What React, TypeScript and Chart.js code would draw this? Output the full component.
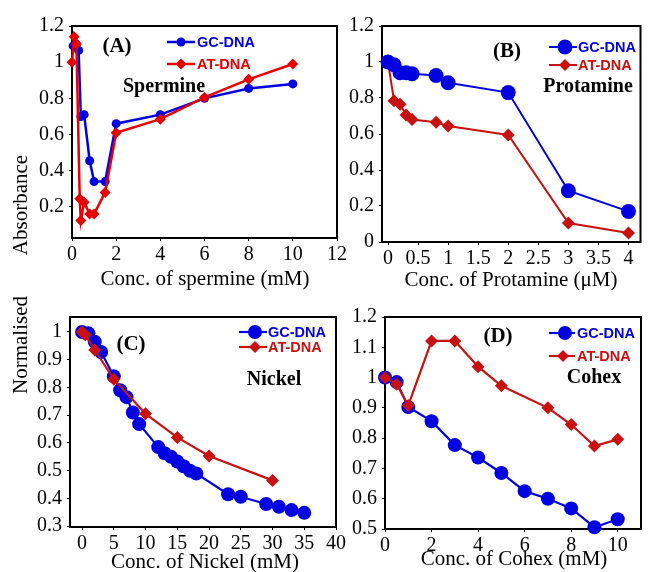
import React, { useEffect, useRef } from "react";
import { Chart, registerables } from "chart.js";
Chart.register(...registerables);

// ---------- Data ----------
// Panel A – Spermine
const spermineGcX = [0.05, 0.2, 0.3, 0.4, 0.55, 0.8, 1, 1.5, 2, 4, 6, 8, 10];
const spermineGcY = [1.09, 1.1, 1.065, 0.7, 0.71, 0.455, 0.34, 0.34, 0.66, 0.71, 0.8, 0.855, 0.88];
const spermineAtX = [0, 0.1, 0.2, 0.35, 0.4, 0.55, 0.8, 1, 1.5, 2, 4, 6, 8, 10];
const spermineAtY = [1.0, 1.14, 1.1, 0.245, 0.125, 0.225, 0.16, 0.16, 0.28, 0.61, 0.685, 0.805, 0.905, 0.99];
const spermineXTicks = [0, 2, 4, 6, 8, 10, 12];
const spermineYTicks = [0.2, 0.4, 0.6, 0.8, 1, 1.2];

// Panel B – Protamine
const protGcX = [0, 0.1, 0.2, 0.3, 0.4, 0.8, 1, 2, 3, 4];
const protGcY = [1.0, 0.985, 0.94, 0.94, 0.935, 0.925, 0.885, 0.83, 0.285, 0.17];
const protAtX = [0, 0.1, 0.2, 0.3, 0.4, 0.8, 1, 2, 3, 4];
const protAtY = [1.0, 0.785, 0.765, 0.705, 0.68, 0.665, 0.645, 0.595, 0.105, 0.05];
const protXTicks = [0, 0.5, 1, 1.5, 2, 2.5, 3, 3.5, 4];
const protYTicks = [0, 0.2, 0.4, 0.6, 0.8, 1, 1.2];

// Panel C – Nickel
const nickelGcX = [0, 1, 2, 3, 5, 6, 7, 8, 9, 12, 13, 14, 15, 16, 17, 18, 23, 25, 29, 31, 33, 35];
const nickelGcY = [1.0, 0.995, 0.965, 0.928, 0.84, 0.79, 0.765, 0.71, 0.668, 0.585, 0.563, 0.55, 0.533, 0.516, 0.5, 0.49, 0.415, 0.406, 0.38, 0.37, 0.358, 0.348];
const nickelAtX = [0, 0.5, 2, 5, 10, 15, 20, 30];
const nickelAtY = [1.0, 0.99, 0.935, 0.83, 0.705, 0.62, 0.553, 0.465];
const nickelXTicks = [0, 5, 10, 15, 20, 25, 30, 35, 40];
const nickelYTicks = [0.3, 0.4, 0.5, 0.6, 0.7, 0.8, 0.9, 1];

// Panel D – Cohex
const cohexGcX = [0, 0.5, 1, 2, 3, 4, 5, 6, 7, 8, 9, 10];
const cohexGcY = [1.0, 0.985, 0.903, 0.856, 0.777, 0.736, 0.685, 0.625, 0.6, 0.568, 0.506, 0.532];
const cohexAtX = [0, 0.5, 1, 2, 3, 4, 5, 7, 8, 9, 10];
const cohexAtY = [1.0, 0.978, 0.908, 1.121, 1.121, 1.036, 0.973, 0.9, 0.845, 0.774, 0.796];
const cohexXTicks = [0, 2, 4, 6, 8, 10];
const cohexYTicks = [0.5, 0.6, 0.7, 0.8, 0.9, 1, 1.1, 1.2];

// ---------- Styles ----------
const BLUE = "rgb(0,0,225)";
const RED_A = "rgb(230,0,0)";
const RED = "rgb(200,18,18)";
const SERIF = "'Liberation Serif', 'Times New Roman', serif";
const SANS = "'Liberation Sans', Arial, sans-serif";

type Series = {
  label: string;
  xs: number[];
  ys: number[];
  color: string;
  shape: "circle" | "rectRot";
  radius: number;
  width: number;
};

type Txt = {
  text: string;
  x: number;
  y: number;
  font: string;
  color?: string;
  align?: CanvasTextAlign;
  baseline?: CanvasTextBaseline;
  rotate?: boolean;
};

type LegendItem = { series: Series; x1: number; x2: number; y: number; mx: number; tx: number; r: number };

type PanelCfg = {
  left: number;
  top: number;
  w: number;
  h: number;
  plot: { l: number; t: number; r: number; b: number };
  xMin: number;
  xMax: number;
  yMin: number;
  yMax: number;
  xTicks: number[];
  yTicks: number[];
  series: Series[];
  texts: Txt[];
  legend: LegendItem[];
};

const fmt = (v: number) => String(Math.round(v * 100) / 100);

function drawMarker(ctx: CanvasRenderingContext2D, shape: string, x: number, y: number, r: number, color: string) {
  ctx.save();
  ctx.fillStyle = color;
  ctx.beginPath();
  if (shape === "circle") {
    ctx.arc(x, y, r, 0, Math.PI * 2);
  } else {
    ctx.moveTo(x - r, y);
    ctx.lineTo(x, y - r);
    ctx.lineTo(x + r, y);
    ctx.lineTo(x, y + r);
    ctx.closePath();
  }
  ctx.fill();
  ctx.restore();
}

function Panel({ cfg }: { cfg: PanelCfg }) {
  const ref = useRef<HTMLCanvasElement>(null);
  useEffect(() => {
    const c = cfg;
    const yW = c.plot.l - c.left;
    const xH = c.top + c.h - c.plot.b;
    const borderPlugin = {
      id: "frame",
      beforeDatasetsDraw(chart: any) {
        const { ctx, chartArea: a } = chart;
        ctx.save();
        ctx.strokeStyle = "#000";
        ctx.lineWidth = 2;
        ctx.strokeRect(a.left, a.top, a.right - a.left, a.bottom - a.top);
        ctx.restore();
      },
    };
    const textPlugin = {
      id: "texts",
      afterDraw(chart: any) {
        const ctx: CanvasRenderingContext2D = chart.ctx;
        ctx.save();
        for (const t of c.texts) {
          ctx.save();
          ctx.font = t.font;
          ctx.fillStyle = t.color || "#000";
          ctx.textAlign = t.align || "center";
          ctx.textBaseline = t.baseline || "middle";
          ctx.translate(t.x - c.left, t.y - c.top);
          if (t.rotate) ctx.rotate(-Math.PI / 2);
          ctx.fillText(t.text, 0, 0);
          ctx.restore();
        }
        for (const L of c.legend) {
          const s = L.series;
          ctx.save();
          ctx.strokeStyle = s.color;
          ctx.lineWidth = s.width;
          ctx.beginPath();
          ctx.moveTo(L.x1 - c.left, L.y - c.top);
          ctx.lineTo(L.x2 - c.left, L.y - c.top);
          ctx.stroke();
          drawMarker(ctx, s.shape, L.mx - c.left, L.y - c.top, L.r, s.color);
          ctx.font = `bold 14.5px ${SANS}`;
          ctx.fillStyle = s.color;
          ctx.textAlign = "left";
          ctx.textBaseline = "middle";
          ctx.fillText(s.label, L.tx - c.left, L.y - c.top + 1);
          ctx.restore();
        }
        ctx.restore();
      },
    };
    const tickFont = { family: SERIF, size: 20 };
    const chart = new Chart(ref.current as HTMLCanvasElement, {
      type: "line",
      data: {
        datasets: c.series.map((s) => ({
          label: s.label,
          data: s.xs.map((x, i) => ({ x, y: s.ys[i] })),
          borderColor: s.color,
          backgroundColor: s.color,
          pointBackgroundColor: s.color,
          pointBorderColor: s.color,
          pointBorderWidth: 0,
          pointStyle: s.shape,
          pointRadius: s.radius,
          borderWidth: s.width,
          tension: 0,
          fill: false,
          clip: false as any,
        })),
      },
      options: {
        responsive: false,
        animation: false,
        devicePixelRatio: 1,
        layout: {
          padding: {
            left: 0,
            top: c.plot.t - c.top,
            right: c.left + c.w - c.plot.r,
            bottom: 0,
          },
        },
        plugins: { legend: { display: false }, tooltip: { enabled: false } },
        scales: {
          x: {
            type: "linear",
            min: c.xMin,
            max: c.xMax,
            afterBuildTicks: (s: any) => {
              s.ticks = c.xTicks.map((v) => ({ value: v }));
            },
            afterFit: (s: any) => {
              s.height = xH;
              s.paddingLeft = 0;
              s.paddingRight = 0;
              s.paddingTop = 0;
              s.paddingBottom = 0;
            },
            grid: { display: true, drawOnChartArea: false, drawTicks: true, tickLength: 3, color: "#000", lineWidth: 1 },
            border: { display: false },
            ticks: {
              font: tickFont,
              color: "#000",
              padding: 2,
              maxRotation: 0,
              autoSkip: false,
              callback: (v: any) => fmt(Number(v)),
            },
          },
          y: {
            type: "linear",
            min: c.yMin,
            max: c.yMax,
            afterBuildTicks: (s: any) => {
              s.ticks = c.yTicks.map((v) => ({ value: v }));
            },
            afterFit: (s: any) => {
              s.width = yW;
              s.paddingLeft = 0;
              s.paddingRight = 0;
              s.paddingTop = 0;
              s.paddingBottom = 0;
            },
            grid: { display: true, drawOnChartArea: false, drawTicks: true, tickLength: 3, color: "#000", lineWidth: 1 },
            border: { display: false },
            ticks: {
              font: tickFont,
              color: "#000",
              padding: 5,
              autoSkip: false,
              callback: (v: any) => fmt(Number(v)),
            },
          },
        },
      } as any,
      plugins: [borderPlugin, textPlugin],
    });
    return () => chart.destroy();
  }, [cfg]);
  return (
    <canvas
      ref={ref}
      width={cfg.w}
      height={cfg.h}
      style={{ position: "absolute", left: cfg.left, top: cfg.top, width: cfg.w, height: cfg.h }}
    />
  );
}

// ---------- Panels ----------
const sA_at: Series = { label: "AT-DNA", xs: spermineAtX, ys: spermineAtY, color: RED_A, shape: "rectRot", radius: 5.5, width: 2.5 };
const sA_gc: Series = { label: "GC-DNA", xs: spermineGcX, ys: spermineGcY, color: BLUE, shape: "circle", radius: 4.5, width: 2.5 };
const sB_gc: Series = { label: "GC-DNA", xs: protGcX, ys: protGcY, color: BLUE, shape: "circle", radius: 7.5, width: 2 };
const sB_at: Series = { label: "AT-DNA", xs: protAtX, ys: protAtY, color: RED, shape: "rectRot", radius: 6.5, width: 2 };
const sC_gc: Series = { label: "GC-DNA", xs: nickelGcX, ys: nickelGcY, color: BLUE, shape: "circle", radius: 7, width: 2.2 };
const sC_at: Series = { label: "AT-DNA", xs: nickelAtX, ys: nickelAtY, color: RED, shape: "rectRot", radius: 6.5, width: 2.2 };
const sD_gc: Series = { label: "GC-DNA", xs: cohexGcX, ys: cohexGcY, color: BLUE, shape: "circle", radius: 7, width: 2.2 };
const sD_at: Series = { label: "AT-DNA", xs: cohexAtX, ys: cohexAtY, color: RED, shape: "rectRot", radius: 6.5, width: 2.2 };

const labelFont = `bold 21px ${SERIF}`;
const nameFont = `bold 20px ${SERIF}`;
const titleFont = `21px ${SERIF}`;

const panelA: PanelCfg = {
  left: 0, top: 0, w: 346, h: 290,
  plot: { l: 72, t: 26, r: 337, b: 238 },
  xMin: 0, xMax: 12, yMin: 0.028, yMax: 1.2,
  xTicks: spermineXTicks, yTicks: spermineYTicks,
  series: [sA_at, sA_gc],
  texts: [
    { text: "(A)", x: 117, y: 47, font: labelFont },
    { text: "Spermine", x: 164, y: 87, font: nameFont },
    { text: "Absorbance", x: 21, y: 205, font: titleFont, rotate: true },
    { text: "Conc. of spermine (mM)", x: 205, y: 285, font: titleFont, baseline: "alphabetic" },
  ],
  legend: [
    { series: sA_gc, x1: 167, x2: 195, y: 42, mx: 181, tx: 197, r: 4.5 },
    { series: sA_at, x1: 167, x2: 195, y: 64, mx: 181, tx: 197, r: 5.5 },
  ],
};

const panelB: PanelCfg = {
  left: 346, top: 0, w: 302, h: 290,
  plot: { l: 382, t: 26, r: 646, b: 242 },
  xMin: -0.1, xMax: 4.2, yMin: 0, yMax: 1.2,
  xTicks: protXTicks, yTicks: protYTicks,
  series: [sB_gc, sB_at],
  texts: [
    { text: "(B)", x: 507, y: 52, font: labelFont },
    { text: "Protamine", x: 588, y: 87, font: nameFont },
    { text: "Conc. of Protamine (\u03bcM)", x: 511, y: 286, font: titleFont, baseline: "alphabetic" },
  ],
  legend: [
    { series: sB_gc, x1: 549, x2: 577, y: 47, mx: 565, tx: 578, r: 7.5 },
    { series: sB_at, x1: 549, x2: 577, y: 65, mx: 565, tx: 578, r: 6 },
  ],
};

const panelC: PanelCfg = {
  left: 0, top: 290, w: 346, h: 282,
  plot: { l: 70, t: 317, r: 336, b: 527 },
  xMin: -1.9, xMax: 40, yMin: 0.297, yMax: 1.054,
  xTicks: nickelXTicks, yTicks: nickelYTicks,
  series: [sC_at, sC_gc],
  texts: [
    { text: "(C)", x: 131, y: 345, font: labelFont },
    { text: "Nickel", x: 274, y: 380, font: nameFont },
    { text: "Normalised", x: 21, y: 345, font: titleFont, rotate: true },
    { text: "Conc. of Nickel (mM)", x: 205, y: 568, font: titleFont, baseline: "alphabetic" },
  ],
  legend: [
    { series: sC_gc, x1: 239, x2: 267, y: 332, mx: 255, tx: 268, r: 7 },
    { series: sC_at, x1: 239, x2: 267, y: 347, mx: 255, tx: 268, r: 6 },
  ],
};

const panelD: PanelCfg = {
  left: 346, top: 290, w: 302, h: 282,
  plot: { l: 385, t: 317, r: 645, b: 529 },
  xMin: 0, xMax: 11, yMin: 0.5, yMax: 1.2,
  xTicks: cohexXTicks, yTicks: cohexYTicks,
  series: [sD_at, sD_gc],
  texts: [
    { text: "(D)", x: 498, y: 337, font: labelFont },
    { text: "Cohex", x: 594, y: 378, font: nameFont },
    { text: "Conc. of Cohex (mM)", x: 514, y: 565, font: titleFont, baseline: "alphabetic" },
  ],
  legend: [
    { series: sD_gc, x1: 549, x2: 575, y: 333, mx: 565, tx: 577, r: 7 },
    { series: sD_at, x1: 549, x2: 575, y: 356, mx: 563, tx: 577, r: 6 },
  ],
};

export default function App() {
  return (
    <div style={{ position: "absolute", left: 0, top: 0, width: 648, height: 572, background: "#fff", overflow: "hidden" }}>
      <Panel cfg={panelA} />
      <Panel cfg={panelB} />
      <Panel cfg={panelC} />
      <Panel cfg={panelD} />
    </div>
  );
}
